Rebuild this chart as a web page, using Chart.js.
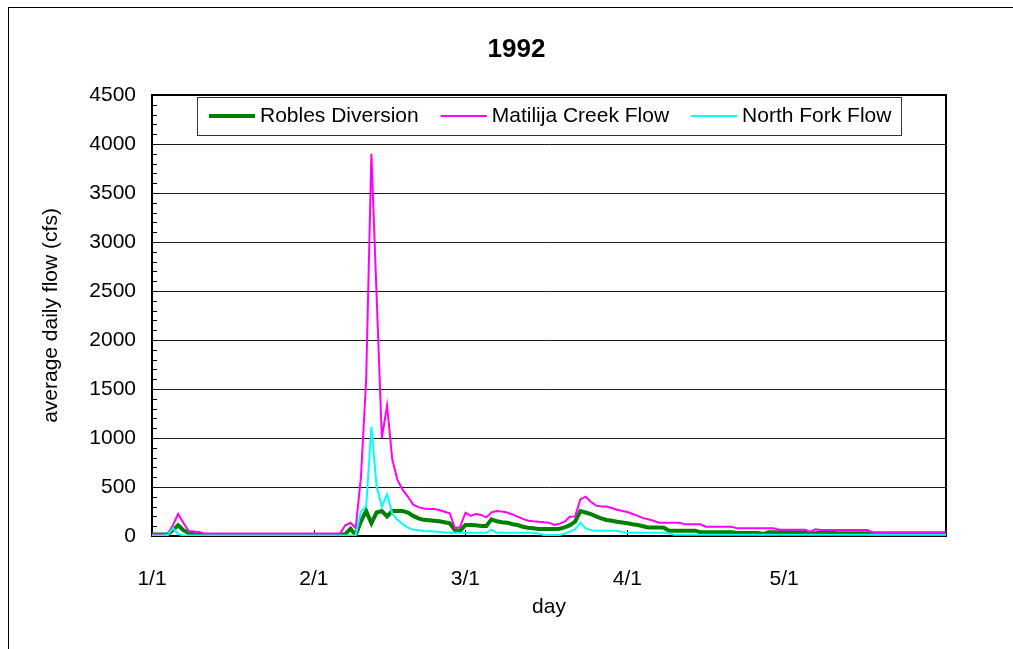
<!DOCTYPE html>
<html>
<head>
<meta charset="utf-8">
<title>1992</title>
<script src="https://cdn.jsdelivr.net/npm/chart.js@4.4.1/dist/chart.umd.min.js"></script>
<style>
  html, body { margin: 0; padding: 0; background: #fff; }
</style>
</head>
<body>
<canvas id="flowChart" width="1013" height="649"></canvas>
<script>
// day of year (0 = Jan 1) where the month labels sit
const tickDays = [0, 31, 60, 91, 121];
const tickLabels = ['1/1', '2/1', '3/1', '4/1', '5/1'];

// average daily flow (cfs), one value per day from Jan 1 to Jun 1
const robles = [
  15, 15, 15, 15, 60, 110, 60, 30, 20, 15,
  10, 10, 10, 10, 10, 10, 10, 10, 10, 10,
  10, 10, 10, 10, 10, 10, 10, 10, 10, 10,
  10, 10, 10, 10, 10, 10, 10, 20, 75, 10,
  150, 255, 130, 240, 255, 200, 255, 255, 255, 240,
  205, 180, 165, 160, 156, 150, 140, 130, 61, 54,
  112, 112, 110, 102, 102, 170, 150, 140, 136, 120,
  112, 95, 85, 78, 71, 71, 71, 71, 75, 88,
  110, 146, 255, 240, 224, 200, 180, 163, 155, 146,
  138, 130, 120, 112, 100, 88, 88, 88, 85, 54,
  54, 54, 54, 54, 54, 37, 37, 37, 37, 37,
  37, 37, 30, 30, 30, 30, 30, 20, 37, 37,
  37, 37, 37, 37, 37, 37, 27, 27, 40, 40,
  40, 27, 27, 27, 27, 27, 27, 27, 20, 20,
  20, 20, 20, 20, 20, 20, 20, 20, 20, 20,
  20, 20, 20
];

const matilija = [
  15, 15, 15, 20, 110, 225, 135, 50, 45, 40,
  25, 25, 25, 25, 25, 25, 25, 25, 25, 25,
  25, 25, 25, 25, 25, 25, 25, 25, 25, 25,
  25, 25, 25, 25, 25, 25, 25, 110, 135, 80,
  600, 1600, 3900, 2450, 1000, 1330, 780, 570, 470, 400,
  320, 295, 280, 275, 275, 265, 248, 232, 78, 95,
  238, 205, 225, 215, 190, 242, 255, 250, 240, 220,
  197, 175, 156, 150, 146, 140, 136, 112, 125, 146,
  197, 200, 374, 401, 350, 310, 300, 300, 285, 268,
  255, 245, 225, 205, 182, 170, 156, 136, 136, 136,
  136, 136, 119, 119, 119, 119, 95, 95, 95, 95,
  95, 95, 78, 78, 78, 78, 78, 78, 78, 78,
  63, 63, 63, 63, 63, 63, 44, 68, 61, 61,
  61, 61, 61, 61, 61, 61, 61, 61, 37, 37,
  37, 37, 37, 37, 37, 37, 37, 37, 37, 37,
  37, 37, 37
];

const northFork = [
  5, 5, 5, 10, 80, 20, 5, 5, 5, 5,
  5, 5, 5, 5, 5, 5, 5, 5, 5, 5,
  5, 5, 5, 5, 5, 5, 5, 5, 5, 5,
  5, 5, 5, 5, 5, 5, 5, 5, 5, 5,
  250, 300, 1115, 503, 300, 425, 230, 165, 120, 85,
  65, 58, 52, 48, 45, 40, 36, 32, 32, 32,
  32, 32, 32, 32, 32, 65, 32, 32, 32, 32,
  32, 32, 32, 32, 25, 10, 10, 10, 10, 25,
  44, 68, 136, 78, 60, 54, 54, 54, 54, 54,
  40, 34, 34, 34, 34, 34, 34, 34, 34, 25,
  12, 12, 12, 12, 12, 12, 12, 12, 12, 12,
  12, 12, 12, 12, 12, 12, 12, 12, 12, 12,
  12, 12, 12, 12, 12, 12, 12, 12, 12, 12,
  12, 12, 12, 12, 12, 12, 12, 12, 12, 12,
  12, 12, 12, 12, 12, 12, 12, 12, 12, 12,
  12, 12, 12
];

const FONT = 'Arial, "Liberation Sans", sans-serif';
const toPoints = (arr) => arr.map((v, i) => ({ x: i, y: v }));

// outer border, chart title, plot frame and inward tick marks
const framePlugin = {
  id: 'frame',
  beforeDatasetsDraw(chart) {
    const { ctx, chartArea: a, scales } = chart;
    ctx.save();
    ctx.strokeStyle = '#000';
    ctx.lineWidth = 1;
    ctx.beginPath();
    for (let v = 0; v <= 4500; v += 100) {
      const y = Math.round(scales.y.getPixelForValue(v)) + 0.5;
      ctx.moveTo(a.left, y);
      ctx.lineTo(a.left + 5, y);
    }
    tickDays.forEach((d) => {
      const x = Math.round(scales.x.getPixelForValue(d)) + 0.5;
      ctx.moveTo(x, a.bottom);
      ctx.lineTo(x, a.bottom - 6);
    });
    ctx.stroke();
    ctx.lineWidth = 2;
    ctx.beginPath();
    ctx.moveTo(a.left, a.top);
    ctx.lineTo(a.right, a.top);
    ctx.lineTo(a.right, a.bottom);
    ctx.stroke();
    ctx.restore();
  },
  afterDraw(chart) {
    const ctx = chart.ctx;
    const bx = 8, by = 7, bw = chart.width + 4;
    ctx.save();
    ctx.strokeStyle = '#000';
    ctx.lineWidth = 1;
    ctx.strokeRect(bx + 0.5, by + 0.5, bw, chart.height + 20);
    ctx.fillStyle = '#000';
    ctx.font = 'bold 26px ' + FONT;
    ctx.textAlign = 'center';
    ctx.textBaseline = 'alphabetic';
    ctx.fillText('1992', bx + bw / 2, 57);
    ctx.restore();
  }
};

// boxed legend placed inside the top of the plot area
const legendBoxPlugin = {
  id: 'legendBox',
  afterDraw(chart) {
    const { ctx, chartArea: a } = chart;
    const x0 = a.left + 45, y0 = a.top + 2, w = 704, h = 38;
    ctx.save();
    ctx.fillStyle = '#fff';
    ctx.fillRect(x0, y0, w, h);
    ctx.strokeStyle = '#333';
    ctx.lineWidth = 1;
    ctx.strokeRect(x0 + 0.5, y0 + 0.5, w, h);
    ctx.font = '21px ' + FONT;
    ctx.fillStyle = '#000';
    ctx.textBaseline = 'middle';
    let x = x0 + 12;
    const cy = y0 + h / 2;
    chart.data.datasets.forEach((ds) => {
      ctx.strokeStyle = ds.borderColor;
      ctx.lineWidth = ds.borderWidth;
      ctx.beginPath();
      ctx.moveTo(x, cy);
      ctx.lineTo(x + 46, cy);
      ctx.stroke();
      x += 51;
      ctx.fillText(ds.label, x, cy);
      x += ctx.measureText(ds.label).width + 22;
    });
    ctx.restore();
  }
};

new Chart(document.getElementById('flowChart'), {
  type: 'line',
  data: {
    datasets: [
      { label: 'Robles Diversion', data: toPoints(robles), borderColor: '#008000', borderWidth: 4, order: 3 },
      { label: 'Matilija Creek Flow', data: toPoints(matilija), borderColor: '#FF00FF', borderWidth: 2, order: 2 },
      { label: 'North Fork Flow', data: toPoints(northFork), borderColor: '#00FFFF', borderWidth: 2, order: 1 }
    ]
  },
  options: {
    responsive: false,
    animation: false,
    elements: { point: { radius: 0 }, line: { tension: 0, fill: false } },
    layout: { padding: { left: 0, right: 67, top: 95, bottom: 0 } },
    plugins: {
      legend: { display: false },
      tooltip: { enabled: false },
      title: { display: false }
    },
    scales: {
      x: {
        type: 'linear',
        min: 0,
        max: 152,
        grid: { display: false, drawTicks: false },
        border: { display: true, color: '#000', width: 2 },
        afterBuildTicks: (scale) => { scale.ticks = tickDays.map((v) => ({ value: v })); },
        ticks: {
          autoSkip: false,
          maxRotation: 0,
          padding: 31,
          color: '#000',
          font: { family: FONT, size: 21 },
          callback: (value) => tickLabels[tickDays.indexOf(value)]
        },
        title: {
          display: true,
          text: 'day',
          color: '#000',
          font: { family: FONT, size: 21 },
          padding: { top: 0, bottom: 29 }
        },
        afterFit: (scale) => { scale.height = 113; }
      },
      y: {
        min: 0,
        max: 4500,
        grid: { color: '#1a1a1a', lineWidth: 1, drawTicks: false },
        border: { display: true, color: '#000', width: 2 },
        ticks: {
          stepSize: 500,
          padding: 16,
          color: '#000',
          font: { family: FONT, size: 21 },
          callback: (value) => String(value)
        },
        title: {
          display: true,
          text: 'average daily flow (cfs)',
          color: '#000',
          font: { family: FONT, size: 21 },
          padding: { top: 39, bottom: 0 }
        },
        afterFit: (scale) => { scale.width = 152; }
      }
    }
  },
  plugins: [framePlugin, legendBoxPlugin]
});
</script>
</body>
</html>
